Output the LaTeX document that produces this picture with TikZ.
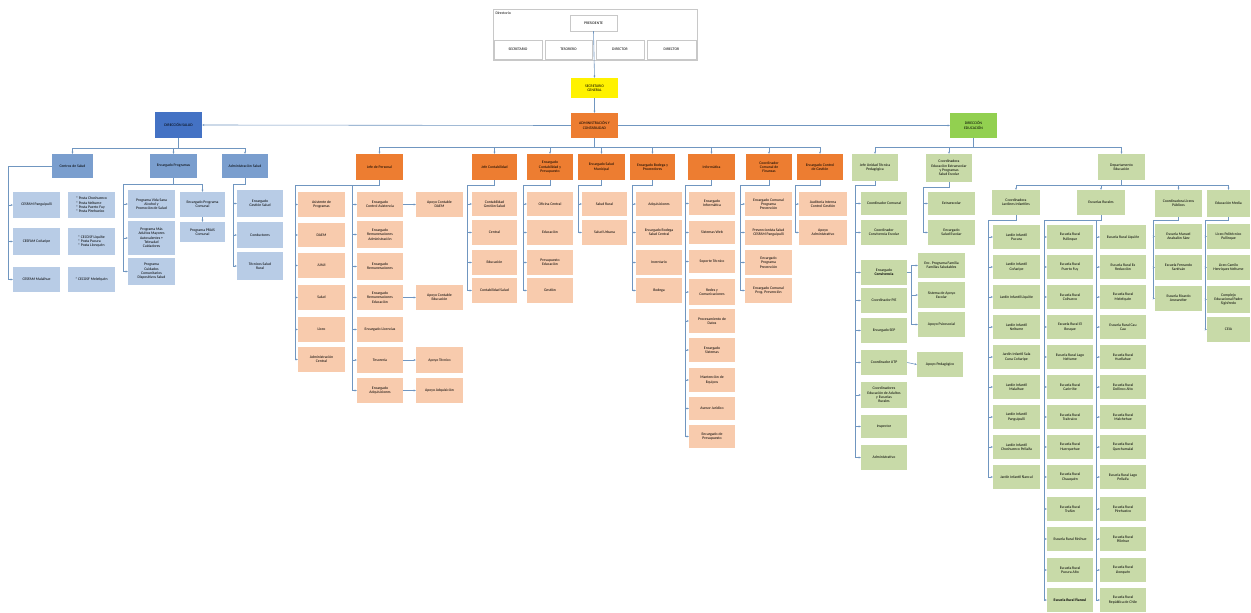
\documentclass[tikz,border=0pt]{standalone}
\usepackage{fontspec}
\setmainfont{Carlito}
\usetikzlibrary{arrows.meta}
\definecolor{lnc}{RGB}{112,150,192}
\definecolor{hdrgray}{RGB}{200,200,200}
\definecolor{blueM}{RGB}{68,114,196}
\definecolor{blueS}{RGB}{122,158,206}
\definecolor{blueL}{RGB}{184,204,230}
\definecolor{orM}{RGB}{237,125,49}
\definecolor{orL}{RGB}{248,203,173}
\definecolor{grM}{RGB}{146,208,80}
\definecolor{grL}{RGB}{200,218,168}
\newcommand{\mybox}[7]{\node[#2, minimum width={#5pt-#3pt}, minimum height={#6pt-#4pt}] (#1) at ({(#3+#5)/2},{(#4+#6)/2}) {#7};}
\newcommand{\kid}[2]{\draw[ar] (#1 |- #2.west) -- (#2.west);}
\newcommand{\busline}[3]{\draw[ln] (#1.south) |- (#2) -- (#2 |- #3.west);}
\begin{document}
\begin{tikzpicture}[x=1pt,y=-1pt,font=\fontsize{3.8}{4.3}\selectfont,
  bx/.style={rectangle, inner sep=0.3pt, align=center, text=black},
  hb/.style={bx, draw=hdrgray, fill=white, line width=0.4pt},
  bm/.style={bx, fill=blueM},
  bs/.style={bx, fill=blueS},
  bl/.style={bx, fill=blueL},
  bll/.style={bx, fill=blueL, align=left},
  om/.style={bx, fill=orM},
  ol/.style={bx, fill=orL},
  gm/.style={bx, fill=grM},
  gl/.style={bx, fill=grL},
  ym/.style={bx, fill=yellow},
  ln/.style={draw=lnc, line width=0.6pt},
  ar/.style={ln, -{Stealth[length=2.2pt,width=2pt]}}]
\fill[white] (0,0) rectangle (1251,613);
\useasboundingbox (0,0) rectangle (1251,613);
% header
\mybox{hdr}{hb}{493}{9}{697}{60}{}
\node[bx, anchor=north west] (dirlab) at (495,11) {Directorio};
\mybox{pres}{hb}{570}{15}{617}{31}{PRESIDENTE}
\mybox{h1}{hb}{494}{40}{542}{59}{SECRETARIO}
\mybox{h2}{hb}{545}{40}{592}{59}{TESORERO}
\mybox{h3}{hb}{596}{40}{644}{59}{DIRECTOR}
\mybox{h4}{hb}{647}{40}{696}{59}{DIRECTOR}
\mybox{sec}{ym}{571}{78}{618}{98}{SECRETARIO\\GENERAL}
\mybox{adm}{om}{571}{113}{618}{138}{ADMINISTRACIÓN Y\\CONTABILIDAD}
\mybox{salud}{bm}{155}{112}{202}{138}{DIRECCIÓN SALUD}
\mybox{educ}{gm}{950}{113}{997}{138}{DIRECCIÓN\\EDUCACIÓN}
\draw[ar] (pres.south) -- (sec.north);
\draw[ar] (sec.south) -- (adm.north);
\draw[ar] (adm.west) -- (salud.east);
\draw[ar] (adm.east) -- (educ.west);
% ---------------- blue
\mybox{b1}{bs}{52}{154}{93}{178}{Centros de Salud}
\mybox{b2}{bs}{150}{154}{197}{178}{Encargado Programas}
\mybox{b3}{bs}{222}{154}{268}{178}{Administración Salud}
\coordinate (bbus) at (0,148);
\draw[ln] (salud.south) -- (salud.south |- bbus);
\draw[ln] (b1.north |- bbus) -- (b3.north |- bbus);
\foreach \k in {b1,b2,b3} {\draw[ar] (\k.north |- bbus) -- (\k.north);}
\mybox{bc1}{bl}{13}{192}{60}{218}{CESFAM Panguipulli}
\mybox{bc2}{bl}{13}{228}{60}{255}{CESFAM Coñaripe}
\mybox{bc3}{bl}{13}{267}{60}{292}{CESFAM Malalhue}
\mybox{bt1}{bll}{68}{192}{115}{218}{* Posta Choshuenco\\* Posta Neltume\\* Posta Puerto Fuy\\* Posta Pirehueico}
\mybox{bt2}{bll}{68}{228}{115}{255}{* CECOSF Liquiñe\\* Posta Pucura\\* Posta Llonquén}
\mybox{bt3}{bll}{68}{267}{115}{292}{* CECOSF Melefquén}
\coordinate (k1) at (8,0);
\draw[ln] (b1.west) -- (b1.west -| k1) -- (k1 |- bc3.west);
\foreach \k in {bc1,bc2,bc3} {\kid{k1}{\k}}
\mybox{bp1}{bl}{128}{190}{175}{218}{Programa Vida Sana\\Alcohol y\\Promoción de Salud}
\mybox{bp2}{bl}{128}{221}{175}{255}{Programa Más\\Adultos Mayores\\Autovalentes +\\Telesalud\\Cuidadores}
\mybox{bp3}{bl}{128}{258}{175}{285}{Programa\\Cuidados\\Comunitarios\\Dispositivos Salud}
\mybox{bq1}{bl}{180}{192}{225}{217}{Encargado Programa\\Comunal}
\mybox{bq2}{bl}{180}{222}{225}{242}{Programa PRAIS\\Comunal}
\coordinate (k2) at (123,184);
\busline{b2}{k2}{bp3}
\foreach \k in {bp1,bp2,bp3} {\kid{k2}{\k}}
\draw[ar] (b2.south |- k2) -| (bq1.north);
\draw[ar] (bq1.south) -- (bq2.north);
\mybox{ba1}{bl}{237}{190}{283}{217}{Encargado\\Gestión Salud}
\mybox{ba2}{bl}{237}{222}{283}{248}{Conductores}
\mybox{ba3}{bl}{237}{252}{283}{280}{Técnicos Salud\\Rural}
\coordinate (k3) at (233,184);
\busline{b3}{k3}{ba3}
\foreach \k in {ba1,ba2,ba3} {\kid{k3}{\k}}
% ---------------- orange
\mybox{d1}{om}{356}{154}{403}{180}{Jefe de Personal}
\mybox{d2}{om}{472}{154}{517}{180}{Jefe Contabilidad}
\mybox{d3}{om}{527}{154}{573}{180}{Encargado\\Contabilidad y\\Presupuesto}
\mybox{d4}{om}{578}{154}{625}{180}{Encargado Salud\\Municipal}
\mybox{d5}{om}{630}{154}{675}{180}{Encargado Bodega y\\Proveedores}
\mybox{d6}{om}{688}{154}{735}{180}{Informática}
\mybox{d7}{om}{746}{154}{792}{180}{Coordinador\\Comunal de\\Finanzas}
\mybox{d8}{om}{797}{154}{843}{180}{Encargado Control\\de Gestión}
\coordinate (obus) at (0,147);
\draw[ln] (adm.south) -- (adm.south |- obus);
\draw[ln] (d1.north |- obus) -- (d8.north |- obus);
\foreach \k in {d1,d2,d3,d4,d5,d6,d7,d8} {\draw[ar] (\k.north |- obus) -- (\k.north);}
% D1
\mybox{l1}{ol}{298}{192}{345}{217}{Asistente de\\Programas}
\mybox{l2}{ol}{298}{223}{345}{247}{DAEM}
\mybox{l3}{ol}{298}{253}{345}{278}{JUNJI}
\mybox{l4}{ol}{298}{285}{345}{310}{Salud}
\mybox{l5}{ol}{298}{317}{345}{342}{Liceo}
\mybox{l6}{ol}{298}{347}{345}{372}{Administración\\Central}
\mybox{m1}{ol}{357}{192}{403}{217}{Encargado\\Control Asistencia}
\mybox{m2}{ol}{357}{221}{403}{248}{Encargado\\Remuneraciones\\Administración}
\mybox{m3}{ol}{357}{253}{403}{280}{Encargado\\Remuneraciones}
\mybox{m4}{ol}{357}{285}{403}{310}{Encargado\\Remuneraciones\\Educación}
\mybox{m5}{ol}{357}{317}{403}{342}{Encargado Licencias}
\mybox{m6}{ol}{357}{347}{403}{373}{Tesorería}
\mybox{m7}{ol}{357}{378}{403}{403}{Encargado\\Adquisiciones}
\mybox{r1}{ol}{416}{192}{463}{217}{Apoyo Contable\\DAEM}
\mybox{r4}{ol}{416}{285}{463}{310}{Apoyo Contable\\Educación}
\mybox{r6}{ol}{416}{347}{463}{373}{Apoyo Técnico}
\mybox{r7}{ol}{416}{378}{463}{403}{Apoyo Adquisición}
\coordinate (o1a) at (295,185);
\coordinate (o1b) at (352,185);
\busline{d1}{o1a}{l6}
\draw[ln] (o1b) -- (o1b |- m7.west);
\foreach \k in {l1,l2,l3,l4,l5,l6} {\kid{o1a}{\k}}
\foreach \k in {m1,m2,m3,m4,m5,m6,m7} {\kid{o1b}{\k}}
\draw[ar] (m1.east) -- (r1.west);
\draw[ar] (m4.east) -- (r4.west);
\draw[ar] (m6.east) -- (r6.west);
\draw[ar] (m7.east) -- (r7.west);
% D2
\mybox{e1}{ol}{472}{192}{517}{216}{Contabilidad\\Gestión Salud}
\mybox{e2}{ol}{472}{220}{517}{245}{Central}
\mybox{e3}{ol}{472}{250}{517}{275}{Educación}
\mybox{e4}{ol}{472}{278}{517}{303}{Contabilidad Salud}
\coordinate (o2) at (467,185);
\busline{d2}{o2}{e4}
\foreach \k in {e1,e2,e3,e4} {\kid{o2}{\k}}
% D3
\mybox{f1}{ol}{527}{192}{573}{216}{Oficina Central}
\mybox{f2}{ol}{527}{220}{573}{245}{Educación}
\mybox{f3}{ol}{527}{250}{573}{275}{Presupuesto\\Educación}
\mybox{f4}{ol}{527}{278}{573}{303}{Gestión}
\coordinate (o3) at (523,185);
\busline{d3}{o3}{f4}
\foreach \k in {f1,f2,f3,f4} {\kid{o3}{\k}}
% D4
\mybox{h5}{ol}{582}{192}{627}{216}{Salud Rural}
\mybox{h6}{ol}{582}{220}{627}{245}{Salud Urbana}
\coordinate (o4) at (578,185);
\busline{d4}{o4}{h6}
\foreach \k in {h5,h6} {\kid{o4}{\k}}
% D5
\mybox{i1}{ol}{636}{192}{682}{216}{Adquisiciones}
\mybox{i2}{ol}{636}{220}{682}{245}{Encargado Bodega\\Salud Central}
\mybox{i3}{ol}{636}{250}{682}{275}{Inventario}
\mybox{i4}{ol}{636}{278}{682}{303}{Bodega}
\coordinate (o5) at (632,185);
\busline{d5}{o5}{i4}
\foreach \k in {i1,i2,i3,i4} {\kid{o5}{\k}}
% D6
\mybox{q1}{ol}{689}{192}{735}{215}{Encargado\\Informática}
\mybox{q2}{ol}{689}{221}{735}{244}{Sistemas Web}
\mybox{q3}{ol}{689}{250}{735}{273}{Soporte Técnico}
\mybox{q4}{ol}{689}{279}{735}{305}{Redes y\\Comunicaciones}
\mybox{q5}{ol}{689}{309}{735}{333}{Procesamiento de\\Datos}
\mybox{q6}{ol}{689}{338}{735}{362}{Encargado\\Sistemas}
\mybox{q7}{ol}{689}{368}{735}{392}{Mantención de\\Equipos}
\mybox{q8}{ol}{689}{397}{735}{420}{Asesor Jurídico}
\mybox{q9}{ol}{689}{425}{735}{448}{Encargado de\\Presupuesto}
\coordinate (o6) at (685,185);
\busline{d6}{o6}{q9}
\foreach \k in {q1,q2,q3,q4,q5,q6,q7,q8,q9} {\kid{o6}{\k}}
% D7
\mybox{n1}{ol}{745}{192}{792}{216}{Encargado Comunal\\Programa\\Prevención}
\mybox{n2}{ol}{745}{220}{792}{245}{Prevencionista Salud\\CESFAM Panguipulli}
\mybox{n3}{ol}{745}{250}{792}{275}{Encargado\\Programa\\Prevención}
\mybox{n4}{ol}{745}{278}{792}{303}{Encargado Comunal\\Prog. Prevención}
\coordinate (o7) at (740,185);
\busline{d7}{o7}{n4}
\foreach \k in {n1,n2,n3,n4} {\kid{o7}{\k}}
% D8
\mybox{p1}{ol}{799}{192}{847}{216}{Auditoría Interna\\Control Gestión}
\mybox{p2}{ol}{799}{220}{847}{245}{Apoyo\\Administrativo}
\coordinate (o8) at (795,185);
\busline{d8}{o8}{p2}
\foreach \k in {p1,p2} {\kid{o8}{\k}}
% ---------------- green
\mybox{g1}{gl}{852}{154}{898}{181}{Jefe Unidad Técnica\\Pedagógica}
\mybox{g2}{gl}{926}{154}{972}{182}{Coordinadora\\Educación Extraescolar\\y Programas\\Salud Escolar}
\mybox{g3}{gl}{1098}{154}{1145}{180}{Departamento\\Educación}
\coordinate (gbus) at (0,147);
\draw[ln] (educ.south) -- (educ.south |- gbus);
\draw[ln] (g1.north |- gbus) -- (g3.north |- gbus);
\foreach \k in {g1,g2,g3} {\draw[ar] (\k.north |- gbus) -- (\k.north);}
% G1
\mybox{gc1}{gl}{861}{192}{907}{215}{Coordinador Comunal}
\mybox{gc2}{gl}{861}{220}{907}{245}{Coordinador\\Convivencia Escolar}
\mybox{gc3}{gl}{861}{260}{907}{285}{Encargado\\\textbf{Convivencia}}
\mybox{gc4}{gl}{861}{288}{907}{313}{Coordinador PIE}
\mybox{gc5}{gl}{861}{318}{907}{343}{Encargado SEP}
\mybox{gc6}{gl}{861}{350}{907}{375}{Coordinador UTP}
\mybox{gc7}{gl}{861}{382}{907}{408}{Coordinadores\\Educación de Adultos\\y Escuelas\\Rurales}
\mybox{gc8}{gl}{861}{415}{907}{438}{Inspector}
\mybox{gc9}{gl}{861}{445}{907}{470}{Administrativo}
\coordinate (gk1) at (855,185);
\busline{g1}{gk1}{gc9}
\foreach \k in {gc1,gc2,gc3,gc4,gc5,gc6,gc7,gc8,gc9} {\kid{gk1}{\k}}
\mybox{gs1}{gl}{918}{253}{965}{278}{Enc. Programa Familia\\Familias Saludables}
\mybox{gs2}{gl}{918}{282}{965}{308}{Sistema de Apoyo\\Escolar}
\mybox{gs3}{gl}{918}{312}{965}{337}{Apoyo Psicosocial}
\mybox{gs4}{gl}{917}{352}{963}{377}{Apoyo Pedagógico}
\coordinate (gk1s) at (911,0);
\draw[ln] (gc3.east) -- (gc3.east -| gk1s);
\draw[ln] (gk1s |- gs1.west) -- (gk1s |- gs3.west);
\foreach \k in {gs1,gs2,gs3} {\kid{gk1s}{\k}}
\draw[ar] (gc6.east) -- (gs4.west);
% G2
\mybox{gd1}{gl}{928}{192}{975}{215}{Extraescolar}
\mybox{gd2}{gl}{928}{220}{975}{245}{Encargado\\Salud Escolar}
\coordinate (gk2) at (923,187);
\busline{g2}{gk2}{gd2}
\foreach \k in {gd1,gd2} {\kid{gk2}{\k}}
% G3
\mybox{s1}{gl}{992}{190}{1040}{215}{Coordinadora\\Jardines Infantiles}
\mybox{s2}{gl}{1077}{190}{1125}{215}{Escuelas Rurales}
\mybox{s3}{gl}{1155}{190}{1202}{217}{Coordinadora Liceos\\Públicos}
\mybox{s4}{gl}{1207}{190}{1250}{217}{Educación Media}
\coordinate (sbus) at (0,185);
\draw[ln] (g3.south) -- (g3.south |- sbus);
\draw[ln] (s1.north |- sbus) -- (s4.north |- sbus);
\foreach \k in {s1,s2,s3,s4} {\draw[ar] (\k.north |- sbus) -- (\k.north);}
% S1
\mybox{j1}{gl}{993}{225}{1040}{249}{Jardín Infantil\\Pucura}
\mybox{j2}{gl}{993}{255}{1040}{279}{Jardín Infantil\\Coñaripe}
\mybox{j3}{gl}{993}{285}{1040}{309}{Jardín Infantil Liquiñe}
\mybox{j4}{gl}{993}{315}{1040}{339}{Jardín Infantil\\Neltume}
\mybox{j5}{gl}{993}{345}{1040}{369}{Jardín Infantil Sala\\Cuna Coñaripe}
\mybox{j6}{gl}{993}{375}{1040}{399}{Jardín Infantil\\Malalhue}
\mybox{j7}{gl}{993}{405}{1040}{429}{Jardín Infantil\\Panguipulli}
\mybox{j8}{gl}{993}{435}{1040}{459}{Jardín Infantil\\Choshuenco Pellaifa}
\mybox{j9}{gl}{993}{465}{1040}{489}{Jardín Infantil Ñancul}
\coordinate (sk1) at (988,220);
\busline{s1}{sk1}{j9}
\foreach \k in {j1,j2,j3,j4,j5,j6,j7,j8,j9} {\kid{sk1}{\k}}
% S2
\mybox{sa1}{gl}{1047}{225}{1093}{249}{Escuela Rural\\Pullinque}
\mybox{sa2}{gl}{1047}{255}{1093}{279}{Escuela Rural\\Puerto Fuy}
\mybox{sa3}{gl}{1047}{285}{1093}{309}{Escuela Rural\\Coihueco}
\mybox{sa4}{gl}{1047}{315}{1093}{339}{Escuela Rural El\\Bosque}
\mybox{sa5}{gl}{1047}{345}{1093}{369}{Escuela Rural Lago\\Neltume}
\mybox{sa6}{gl}{1047}{375}{1093}{399}{Escuela Rural\\Carirriñe}
\mybox{sa7}{gl}{1047}{405}{1093}{429}{Escuela Rural\\Traitraico}
\mybox{sa8}{gl}{1047}{435}{1093}{459}{Escuela Rural\\Huerquehue}
\mybox{sa9}{gl}{1047}{465}{1093}{489}{Escuela Rural\\Chauquén}
\mybox{sa10}{gl}{1047}{497}{1093}{521}{Escuela Rural\\Trafún}
\mybox{sa11}{gl}{1047}{527}{1093}{551}{Escuela Rural Rinihue}
\mybox{sa12}{gl}{1047}{558}{1093}{582}{Escuela Rural\\Pucura Alto}
\mybox{sa13}{gl}{1047}{588}{1093}{612}{\textbf{Escuela Rural Ñancul}}
\mybox{sb1}{gl}{1100}{225}{1146}{249}{Escuela Rural Liquiñe}
\mybox{sb2}{gl}{1100}{255}{1146}{279}{Escuela Rural Ex\\Reducción}
\mybox{sb3}{gl}{1100}{285}{1146}{309}{Escuela Rural\\Melefquén}
\mybox{sb4}{gl}{1100}{315}{1146}{339}{Escuela Rural Cau\\Cau}
\mybox{sb5}{gl}{1100}{345}{1146}{369}{Escuela Rural\\Huellahue}
\mybox{sb6}{gl}{1100}{375}{1146}{399}{Escuela Rural\\Dollinco Alto}
\mybox{sb7}{gl}{1100}{405}{1146}{429}{Escuela Rural\\Malchehue}
\mybox{sb8}{gl}{1100}{435}{1146}{459}{Escuela Rural\\Quechumalal}
\mybox{sb9}{gl}{1100}{465}{1146}{489}{Escuela Rural Lago\\Pellaifa}
\mybox{sb10}{gl}{1100}{497}{1146}{521}{Escuela Rural\\Pirehueico}
\mybox{sb11}{gl}{1100}{527}{1146}{551}{Escuela Rural\\Pilinhue}
\mybox{sb12}{gl}{1100}{558}{1146}{582}{Escuela Rural\\Llonquén}
\mybox{sb13}{gl}{1100}{588}{1146}{612}{Escuela Rural\\República de Chile}
\coordinate (sk2a) at (1044,220);
\coordinate (sk2b) at (1096,220);
\busline{s2}{sk2a}{sa13}
\draw[ln] (sk2b) -- (sk2b |- sb13.west);
\foreach \k in {sa1,sa2,sa3,sa4,sa5,sa6,sa7,sa8,sa9,sa10,sa11,sa12,sa13} {\kid{sk2a}{\k}}
\foreach \k in {sb1,sb2,sb3,sb4,sb5,sb6,sb7,sb8,sb9,sb10,sb11,sb12,sb13} {\kid{sk2b}{\k}}
% S3
\mybox{t1}{gl}{1155}{224}{1202}{249}{Escuela Manuel\\Anabalón Sáez}
\mybox{t2}{gl}{1155}{255}{1202}{280}{Escuela Fernando\\Santiván}
\mybox{t3}{gl}{1155}{286}{1202}{311}{Escuela Ricardo\\Anwandter}
\coordinate (sk3) at (1153,220);
\busline{s3}{sk3}{t3}
\foreach \k in {t1,t2,t3} {\kid{sk3}{\k}}
% S4
\mybox{u1}{gl}{1207}{224}{1250}{249}{Liceo Politécnico\\Pullinque}
\mybox{u2}{gl}{1207}{255}{1250}{280}{Liceo Camilo\\Henríquez Neltume}
\mybox{u3}{gl}{1207}{286}{1250}{313}{Complejo\\Educacional Padre\\Sigisfredo}
\mybox{u4}{gl}{1207}{317}{1250}{342}{CEIA}
\coordinate (sk4) at (1205,220);
\busline{s4}{sk4}{u4}
\foreach \k in {u1,u2,u3,u4} {\kid{sk4}{\k}}
\end{tikzpicture}
\end{document}
